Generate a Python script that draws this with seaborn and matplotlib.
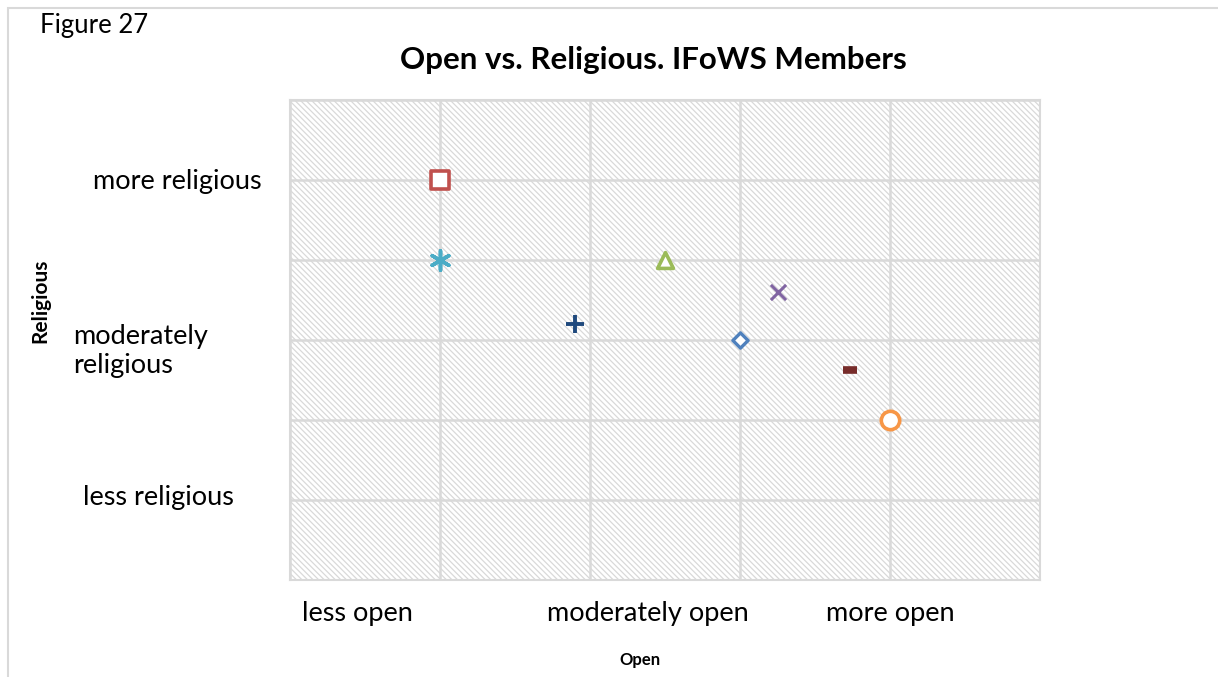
import matplotlib
matplotlib.use("Agg")
import matplotlib.pyplot as plt
import seaborn as sns
import pandas as pd
from matplotlib.patches import Rectangle

sns.set_theme(style="white")
plt.rcParams['font.family'] = ['Lato', 'DejaVu Sans']
plt.rcParams['text.color'] = 'black'
plt.rcParams['hatch.color'] = '#d9d9d9'
plt.rcParams['hatch.linewidth'] = 0.9

# ---- data ----
series = ["S1", "S2", "S3", "S4", "S5", "S6", "S7", "S8"]
open_vals = [1.0, 1.0, 1.9, 2.5, 3.25, 3.0, 3.73, 4.0]
religious_vals = [5.0, 4.0, 3.2, 4.0, 3.6, 3.0, 2.63, 2.0]
colors = ["#C0504D", "#4BACC6", "#1F497D", "#9BBB59", "#8064A2", "#4F81BD", "#772C2A", "#F79646"]
x_tick_labels = ["less open", "moderately open", "more open"]
y_tick_labels = ["less religious", "moderately\nreligious", "more religious"]

df = pd.DataFrame({"series": series, "open": open_vals, "religious": religious_vals})

fig = plt.figure(figsize=(12.18, 6.77), dpi=100)
# outer chart border (top and left visible)
fig.patches.append(Rectangle((8 / 1218, -0.1), 1.2, 1.1 - 8 / 677,
                             transform=fig.transFigure, fill=False,
                             edgecolor='#d9d9d9', lw=1.5))

ax = fig.add_axes([290 / 1218, 1 - 580 / 677, 750 / 1218, 480 / 677])
ax.set_xlim(0, 5)
ax.set_ylim(0, 6)

# hatched plot area
ax.add_patch(Rectangle((0, 0), 1, 1, transform=ax.transAxes, facecolor='white',
                       edgecolor='#d9d9d9', hatch='\\' * 6, lw=0, zorder=0))

ax.set_xticks(range(0, 6))
ax.set_yticks(range(0, 7))
ax.grid(True, color='#d9d9d9', lw=1.8, zorder=1)
ax.tick_params(labelbottom=False, labelleft=False, length=0)
for sp in ax.spines.values():
    sp.set_color('#d9d9d9')
    sp.set_linewidth(1.5)
ax.set_axisbelow(True)

styles = {
    "S1": dict(marker='s', s=150, facecolor='white', lw=2.6),
    "S2": dict(marker=(6, 2, 0), s=190, lw=2.6),
    "S3": dict(marker='+', s=150, lw=2.8),
    "S4": dict(marker='^', s=130, facecolor='white', lw=2.6),
    "S5": dict(marker='x', s=120, lw=2.2),
    "S6": dict(marker='D', s=60, facecolor='white', lw=2.4),
    "S7": dict(marker='_', s=90, lw=5.5),
    "S8": dict(marker='o', s=175, facecolor='white', lw=2.6),
}

for name, col in zip(series, colors):
    st = dict(styles[name])
    sub = df[df["series"] == name]
    fc = st.pop('facecolor', col)
    lw = st.pop('lw')
    sns.scatterplot(data=sub, x="open", y="religious", ax=ax, color=col,
                    facecolor=fc, edgecolor=col, linewidth=lw, legend=False,
                    zorder=3, clip_on=False, **st)

ax.set_xlabel("")
ax.set_ylabel("")

# category labels
tfs = 19.5
fig.text(357 / 1218, 1 - 614 / 677, x_tick_labels[0], ha='center', va='center', fontsize=tfs)
fig.text(648 / 1218, 1 - 614 / 677, x_tick_labels[1], ha='center', va='center', fontsize=tfs)
fig.text(890 / 1218, 1 - 614 / 677, x_tick_labels[2], ha='center', va='center', fontsize=tfs)
fig.text(83 / 1218, 1 - 497 / 677, y_tick_labels[0], ha='left', va='center', fontsize=tfs)
fig.text(73 / 1218, 1 - 351 / 677, y_tick_labels[1], ha='left', va='center', fontsize=tfs,
         linespacing=1.2)
fig.text(93 / 1218, 1 - 181 / 677, y_tick_labels[2], ha='left', va='center', fontsize=tfs)

fig.text(653 / 1218, 1 - 60 / 677, "Open vs. Religious. IFoWS Members", ha='center',
         va='center', fontsize=22.5, fontweight='bold')
fig.text(40 / 1218, 1 - 25 / 677, "Figure 27", ha='left', va='center', fontsize=18.5)
fig.text(640 / 1218, 1 - 660 / 677, "Open", ha='center', va='center', fontsize=12,
         fontweight='bold')
fig.text(40 / 1218, 1 - 301 / 677, "Religious", ha='center', va='center', fontsize=15,
         fontweight='bold', rotation=90)

fig.savefig("out.png", dpi=100)
